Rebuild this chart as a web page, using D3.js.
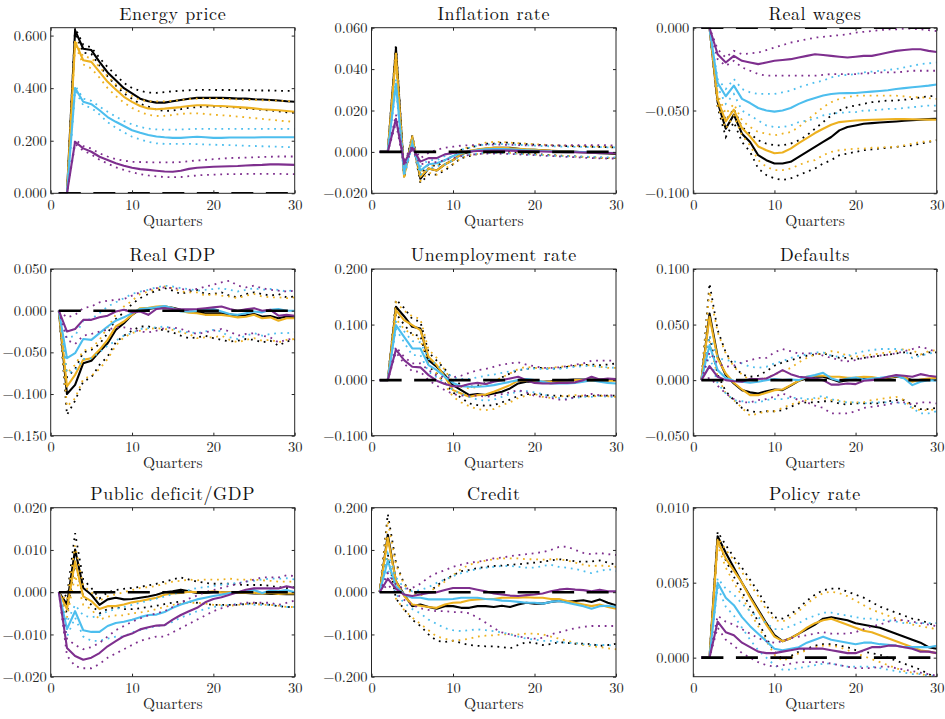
<!DOCTYPE html>
<html>
<head>
<meta charset="utf-8">
<script src="https://cdn.jsdelivr.net/npm/d3@7"></script>
<style>
  body { margin: 0; background: #fff; }
  svg { display: block; }
</style>
</head>
<body>
<div id="chart"></div>
<script>
// quarters on the x axis
const quarters = d3.range(1, 31);
const xTicks = [0, 10, 20, 30];

const titles = ["Energy price", "Inflation rate", "Real wages", "Real GDP", "Unemployment rate",
  "Defaults", "Public deficit/GDP", "Credit", "Policy rate"];

const yDomains = [[0, 0.63], [-0.02, 0.06], [-0.1, 0], [-0.15, 0.05], [-0.1, 0.2],
  [-0.05, 0.1], [-0.02, 0.02], [-0.2, 0.2], [-0.00127, 0.01]];

const yTicks = [[0, 0.2, 0.4, 0.6], [-0.02, 0, 0.02, 0.04, 0.06], [-0.1, -0.05, 0],
  [-0.15, -0.1, -0.05, 0, 0.05], [-0.1, 0, 0.1, 0.2], [-0.05, 0, 0.05, 0.1],
  [-0.02, -0.01, 0, 0.01, 0.02], [-0.2, -0.1, 0, 0.1, 0.2], [0, 0.005, 0.01]];

// series order in every array: black, orange, blue, purple
const colors = ["#000000", "#EDB120", "#4DBEEE", "#7E2F8E"];

// ---- Energy price
const energyMid = [
  [0,0,0.62,0.55,0.545,0.50,0.46,0.43,0.40,0.38,0.36,0.35,0.345,0.345,0.35,0.355,0.36,0.363,0.363,0.363,0.363,0.362,0.36,0.36,0.358,0.357,0.355,0.353,0.35,0.348],
  [0,0,0.576,0.506,0.50,0.462,0.424,0.395,0.367,0.348,0.332,0.323,0.32,0.322,0.325,0.328,0.332,0.335,0.335,0.333,0.332,0.33,0.328,0.326,0.323,0.32,0.318,0.316,0.313,0.31],
  [0,0,0.40,0.348,0.339,0.316,0.29,0.272,0.256,0.24,0.23,0.222,0.216,0.213,0.211,0.211,0.213,0.215,0.213,0.211,0.211,0.212,0.212,0.212,0.212,0.213,0.213,0.213,0.213,0.213],
  [0,0,0.196,0.171,0.158,0.139,0.127,0.114,0.105,0.097,0.092,0.089,0.086,0.083,0.082,0.086,0.093,0.097,0.099,0.101,0.102,0.103,0.104,0.106,0.107,0.108,0.11,0.11,0.109,0.108]
];
const energyHi = [
  [0,0,0.63,0.565,0.555,0.515,0.48,0.45,0.42,0.40,0.39,0.383,0.382,0.385,0.388,0.39,0.392,0.393,0.394,0.393,0.393,0.393,0.392,0.392,0.392,0.391,0.391,0.39,0.39,0.39],
  [0,0,0.585,0.52,0.515,0.48,0.445,0.415,0.39,0.37,0.355,0.35,0.35,0.35,0.352,0.355,0.358,0.36,0.36,0.36,0.36,0.358,0.357,0.356,0.355,0.354,0.353,0.352,0.351,0.35],
  [0,0,0.41,0.36,0.352,0.33,0.31,0.292,0.275,0.262,0.252,0.246,0.243,0.242,0.242,0.243,0.244,0.245,0.245,0.245,0.245,0.245,0.245,0.245,0.245,0.245,0.245,0.245,0.245,0.245],
  [0,0,0.205,0.18,0.17,0.152,0.14,0.13,0.124,0.12,0.119,0.118,0.118,0.118,0.118,0.119,0.122,0.125,0.127,0.13,0.132,0.134,0.135,0.136,0.137,0.138,0.139,0.14,0.14,0.14]
];
const energyLo = [
  [0,0,0.61,0.535,0.53,0.485,0.445,0.41,0.38,0.36,0.34,0.33,0.318,0.313,0.315,0.32,0.325,0.328,0.33,0.33,0.33,0.328,0.326,0.322,0.32,0.318,0.315,0.312,0.308,0.306],
  [0,0,0.565,0.49,0.475,0.44,0.40,0.37,0.345,0.325,0.31,0.298,0.294,0.295,0.298,0.302,0.304,0.304,0.302,0.299,0.297,0.295,0.292,0.289,0.286,0.283,0.28,0.277,0.274,0.272],
  [0,0,0.39,0.335,0.325,0.30,0.27,0.25,0.232,0.215,0.205,0.196,0.19,0.188,0.188,0.188,0.188,0.187,0.186,0.185,0.184,0.183,0.182,0.181,0.18,0.179,0.178,0.177,0.176,0.175],
  [0,0,0.188,0.162,0.148,0.128,0.113,0.099,0.089,0.08,0.073,0.068,0.064,0.062,0.061,0.062,0.065,0.068,0.07,0.071,0.072,0.073,0.073,0.074,0.074,0.074,0.074,0.074,0.073,0.073]
];

// ---- Inflation rate
const inflationMid = [
  [0,0,0.050,-0.011,0.007,-0.013,-0.008,-0.009,-0.006,-0.004,-0.001,0.000,0.001,0.0015,0.002,0.002,0.002,0.0015,0.001,0.001,0.0008,0.0005,0.0003,0.0002,0,-0.0002,-0.0004,-0.0006,-0.0008,-0.001],
  [0,0,0.047,-0.012,0.007,-0.012,-0.008,-0.009,-0.006,-0.004,-0.001,0.0005,0.0012,0.0018,0.002,0.002,0.0018,0.0015,0.0012,0.001,0.0008,0.0006,0.0004,0.0002,0,-0.0002,-0.0003,-0.0004,-0.0005,-0.0006],
  [0,0,0.033,-0.010,0.004,-0.009,-0.006,-0.0055,-0.004,-0.002,-0.0005,0.0003,0.0008,0.0012,0.0014,0.0014,0.0012,0.001,0.0008,0.0006,0.0004,0.0003,0.0002,0.0001,0,-0.0001,-0.0002,-0.0003,-0.0004,-0.0005],
  [0,0,0.016,-0.0055,0.002,-0.0047,-0.003,-0.003,-0.0012,-0.0005,0,0.0002,0.0004,0.0005,0.0006,0.0006,0.0006,0.0005,0.0004,0.0003,0.0002,0.0001,0,-0.0001,-0.0002,-0.0003,-0.0004,-0.0005,-0.0005,-0.0006]
];
const inflationHi = [
  [0,0,0.052,-0.009,0.008,-0.011,-0.006,-0.007,-0.004,-0.002,0.001,0.002,0.003,0.004,0.004,0.0045,0.0045,0.004,0.0038,0.0035,0.0033,0.003,0.003,0.0028,0.0027,0.0026,0.0025,0.0024,0.0023,0.0022],
  [0,0,0.049,-0.01,0.008,-0.010,-0.006,-0.007,-0.004,-0.002,0.001,0.0025,0.0035,0.0045,0.0048,0.0048,0.0045,0.0042,0.004,0.0037,0.0035,0.0033,0.0031,0.003,0.0029,0.0028,0.0027,0.0026,0.0025,0.0025],
  [0,0,0.035,-0.008,0.005,-0.007,-0.004,-0.004,-0.002,-0.0005,0.001,0.002,0.003,0.0035,0.0038,0.0038,0.0036,0.0034,0.0032,0.003,0.0028,0.0027,0.0026,0.0025,0.0024,0.0024,0.0023,0.0023,0.0022,0.0022],
  [0,0,0.018,-0.004,0.003,-0.003,-0.0005,0.001,0.002,0.0025,0.003,0.0032,0.0034,0.0035,0.0035,0.0035,0.0034,0.0033,0.0032,0.0032,0.0032,0.0032,0.0032,0.0032,0.0033,0.0033,0.0033,0.0033,0.0032,0.0032]
];
const inflationLo = [
  [0,0,0.048,-0.013,0.006,-0.015,-0.011,-0.011,-0.009,-0.006,-0.003,-0.002,-0.001,-0.0005,0,0,0,-0.0005,-0.001,-0.001,-0.0013,-0.0016,-0.0018,-0.002,-0.0022,-0.0024,-0.0026,-0.0028,-0.003,-0.003],
  [0,0,0.045,-0.013,0.006,-0.014,-0.010,-0.011,-0.008,-0.006,-0.003,-0.0015,-0.001,-0.0005,-0.0003,-0.0003,-0.0005,-0.0008,-0.001,-0.0012,-0.0014,-0.0016,-0.0018,-0.002,-0.0022,-0.0024,-0.0026,-0.0028,-0.0029,-0.003],
  [0,0,0.031,-0.012,0.003,-0.011,-0.008,-0.007,-0.006,-0.004,-0.002,-0.0012,-0.0008,-0.0005,-0.0005,-0.0006,-0.0008,-0.001,-0.0012,-0.0014,-0.0016,-0.0018,-0.002,-0.0021,-0.0022,-0.0023,-0.0024,-0.0025,-0.0026,-0.0027],
  [0,0,0.014,-0.007,0.001,-0.006,-0.005,-0.005,-0.004,-0.003,-0.002,-0.0015,-0.001,-0.0008,-0.0008,-0.0009,-0.001,-0.0012,-0.0014,-0.0016,-0.0018,-0.002,-0.0022,-0.0024,-0.0026,-0.0028,-0.003,-0.0031,-0.0032,-0.0032]
];

// ---- Real wages
const wagesMid = [
  [0,0,-0.045,-0.061,-0.0525,-0.064,-0.069,-0.077,-0.080,-0.082,-0.082,-0.081,-0.078,-0.075,-0.072,-0.069,-0.066,-0.062,-0.060,-0.059,-0.058,-0.0576,-0.0572,-0.0569,-0.0566,-0.0562,-0.0558,-0.0555,-0.0552,-0.055],
  [0,0,-0.0435,-0.0566,-0.0495,-0.0606,-0.0657,-0.0717,-0.074,-0.0758,-0.0754,-0.073,-0.0697,-0.0667,-0.0636,-0.061,-0.0586,-0.057,-0.0565,-0.056,-0.0558,-0.0556,-0.0555,-0.0553,-0.0552,-0.0552,-0.0553,-0.0554,-0.0555,-0.0556],
  [0,0,-0.0333,-0.0414,-0.035,-0.043,-0.0455,-0.0485,-0.050,-0.0507,-0.050,-0.0485,-0.046,-0.044,-0.0424,-0.041,-0.040,-0.0396,-0.0395,-0.0394,-0.039,-0.0386,-0.0382,-0.0378,-0.037,-0.0365,-0.036,-0.0355,-0.035,-0.0343],
  [0,0,-0.016,-0.021,-0.017,-0.020,-0.021,-0.022,-0.021,-0.020,-0.0195,-0.019,-0.018,-0.017,-0.016,-0.0165,-0.017,-0.0175,-0.018,-0.0175,-0.017,-0.017,-0.016,-0.015,-0.014,-0.0135,-0.013,-0.013,-0.014,-0.0147]
];
const wagesHi = [
  [0,0,-0.043,-0.056,-0.049,-0.060,-0.064,-0.068,-0.070,-0.071,-0.071,-0.070,-0.068,-0.065,-0.061,-0.057,-0.053,-0.050,-0.048,-0.047,-0.046,-0.045,-0.0445,-0.044,-0.044,-0.0435,-0.043,-0.042,-0.0415,-0.041],
  [0,0,-0.040,-0.052,-0.046,-0.056,-0.060,-0.063,-0.064,-0.065,-0.064,-0.063,-0.060,-0.056,-0.052,-0.048,-0.045,-0.043,-0.042,-0.041,-0.041,-0.041,-0.041,-0.041,-0.041,-0.0415,-0.042,-0.042,-0.0425,-0.043],
  [0,0,-0.031,-0.037,-0.031,-0.037,-0.039,-0.040,-0.040,-0.040,-0.039,-0.038,-0.036,-0.0345,-0.033,-0.032,-0.030,-0.029,-0.0285,-0.028,-0.027,-0.0265,-0.026,-0.0255,-0.025,-0.024,-0.023,-0.022,-0.0215,-0.021],
  [0,0,-0.013,-0.018,-0.014,-0.016,-0.0155,-0.015,-0.0135,-0.012,-0.0105,-0.009,-0.008,-0.007,-0.006,-0.0055,-0.005,-0.0045,-0.004,-0.003,-0.0025,-0.002,-0.0015,-0.001,-0.001,-0.0005,-0.0005,-0.001,-0.0015,-0.002]
];
const wagesLo = [
  [0,0,-0.048,-0.066,-0.057,-0.069,-0.075,-0.085,-0.089,-0.091,-0.092,-0.091,-0.089,-0.087,-0.085,-0.082,-0.080,-0.077,-0.076,-0.075,-0.074,-0.0735,-0.073,-0.0725,-0.072,-0.0715,-0.071,-0.070,-0.069,-0.068],
  [0,0,-0.047,-0.061,-0.053,-0.065,-0.071,-0.080,-0.084,-0.086,-0.086,-0.085,-0.083,-0.081,-0.080,-0.077,-0.075,-0.074,-0.0735,-0.073,-0.073,-0.0725,-0.0725,-0.072,-0.072,-0.071,-0.070,-0.069,-0.0685,-0.068],
  [0,0,-0.036,-0.046,-0.040,-0.050,-0.053,-0.056,-0.059,-0.060,-0.060,-0.059,-0.057,-0.056,-0.055,-0.053,-0.052,-0.0515,-0.051,-0.051,-0.050,-0.050,-0.0495,-0.049,-0.049,-0.0485,-0.048,-0.0475,-0.047,-0.047],
  [0,0,-0.019,-0.023,-0.020,-0.024,-0.026,-0.028,-0.029,-0.029,-0.029,-0.029,-0.029,-0.029,-0.029,-0.0285,-0.028,-0.028,-0.028,-0.028,-0.0275,-0.0275,-0.027,-0.027,-0.027,-0.0265,-0.026,-0.026,-0.026,-0.026]
];

// ---- Real GDP
const gdpMid = [
  [0,-0.100,-0.089,-0.063,-0.060,-0.049,-0.039,-0.023,-0.015,-0.005,0.0016,0.002,0.0036,0.005,0.0036,0.001,-0.001,-0.002,-0.003,-0.003,-0.003,-0.0044,-0.006,-0.0055,-0.004,-0.007,-0.0065,-0.009,-0.007,-0.008],
  [0,-0.091,-0.077,-0.059,-0.057,-0.047,-0.035,-0.019,-0.013,-0.005,0.003,0.0036,0.005,0.0056,0.003,-0.0004,-0.0024,-0.003,-0.005,-0.005,-0.005,-0.0064,-0.008,-0.0072,-0.005,-0.009,-0.008,-0.012,-0.009,-0.009],
  [0,-0.057,-0.051,-0.034,-0.035,-0.027,-0.019,-0.012,-0.008,-0.003,0.002,0.003,0.004,0.0056,0.003,-0.001,-0.001,-0.0004,0.001,0.002,-0.001,-0.004,-0.005,-0.003,-0.001,-0.002,0.001,0.002,0,0],
  [0,-0.025,-0.022,-0.011,-0.011,-0.008,-0.006,-0.001,0.001,-0.002,-0.001,-0.005,0.002,0.003,0.002,0.0016,0.0016,0.002,0.003,0.004,0.005,0.002,0,0.0016,0.003,0,0.001,-0.006,-0.005,-0.006]
];
const gdpHi = [
  [0,-0.080,-0.070,-0.050,-0.047,-0.040,-0.027,-0.010,-0.002,0.008,0.015,0.020,0.024,0.027,0.024,0.020,0.023,0.025,0.020,0.020,0.022,0.018,0.016,0.020,0.022,0.020,0.018,0.020,0.016,0.017],
  [0,-0.075,-0.065,-0.048,-0.045,-0.035,-0.020,-0.005,0.005,0.012,0.020,0.023,0.026,0.029,0.027,0.023,0.022,0.022,0.018,0.020,0.018,0.017,0.015,0.018,0.020,0.017,0.016,0.016,0.015,0.016],
  [0,-0.033,-0.030,-0.012,-0.010,-0.003,0.005,0.010,0.015,0.020,0.023,0.025,0.028,0.030,0.029,0.027,0.026,0.024,0.025,0.026,0.027,0.025,0.023,0.025,0.027,0.025,0.026,0.025,0.023,0.025],
  [0,-0.008,-0.005,0.003,0.005,0.010,0.012,0.013,0.014,0.018,0.022,0.025,0.027,0.028,0.027,0.026,0.025,0.026,0.029,0.031,0.034,0.036,0.030,0.028,0.030,0.027,0.025,0.024,0.023,0.024]
];
const gdpLo = [
  [0,-0.125,-0.108,-0.085,-0.080,-0.065,-0.055,-0.038,-0.030,-0.024,-0.019,-0.019,-0.021,-0.024,-0.026,-0.030,-0.033,-0.032,-0.030,-0.033,-0.035,-0.037,-0.036,-0.034,-0.035,-0.038,-0.036,-0.042,-0.037,-0.035],
  [0,-0.115,-0.105,-0.082,-0.078,-0.070,-0.058,-0.042,-0.032,-0.027,-0.024,-0.022,-0.021,-0.022,-0.023,-0.026,-0.028,-0.033,-0.032,-0.032,-0.030,-0.035,-0.038,-0.035,-0.033,-0.036,-0.035,-0.038,-0.035,-0.034],
  [0,-0.075,-0.072,-0.058,-0.057,-0.050,-0.042,-0.036,-0.030,-0.027,-0.022,-0.021,-0.020,-0.019,-0.021,-0.025,-0.026,-0.027,-0.025,-0.023,-0.025,-0.032,-0.034,-0.030,-0.027,-0.030,-0.028,-0.027,-0.027,-0.026],
  [0,-0.035,-0.040,-0.030,-0.028,-0.025,-0.023,-0.020,-0.020,-0.022,-0.025,-0.026,-0.024,-0.021,-0.020,-0.022,-0.025,-0.028,-0.026,-0.024,-0.022,-0.025,-0.030,-0.028,-0.027,-0.030,-0.032,-0.038,-0.035,-0.033]
];

// ---- Unemployment rate
const unempMid = [
  [0,0,0.132,0.115,0.096,0.093,0.036,0.024,0.009,-0.009,-0.018,-0.027,-0.025,-0.027,-0.024,-0.021,-0.015,-0.006,-0.003,-0.003,-0.003,-0.002,0,0,0.001,0.001,0.001,0.001,0.001,0.001],
  [0,0,0.126,0.108,0.099,0.090,0.042,0.027,0.006,-0.018,-0.024,-0.030,-0.027,-0.026,-0.021,-0.015,-0.009,-0.001,-0.001,-0.003,-0.003,-0.003,-0.001,0,0,0,-0.001,-0.001,-0.001,-0.001],
  [0,0,0.099,0.078,0.057,0.057,0.027,0.018,0.006,-0.005,-0.011,-0.012,-0.012,-0.011,-0.009,-0.006,-0.003,0,0.002,0,-0.003,-0.006,-0.006,-0.006,-0.005,-0.003,0,-0.003,-0.005,-0.006],
  [0,0,0.055,0.036,0.024,0.023,0.009,-0.001,-0.007,-0.011,-0.011,-0.007,-0.005,-0.007,-0.003,0,0.003,0.006,0,-0.005,-0.006,-0.006,-0.005,-0.005,-0.004,0,0.006,0.001,0.003,0.002]
];
const unempHi = [
  [0,0,0.145,0.130,0.110,0.105,0.050,0.035,0.020,0.000,-0.008,-0.012,-0.010,-0.005,-0.003,0.005,0.012,0.018,0.020,0.022,0.022,0.020,0.022,0.024,0.026,0.027,0.028,0.027,0.028,0.030],
  [0,0,0.140,0.125,0.115,0.110,0.055,0.040,0.018,-0.005,-0.012,-0.015,-0.012,-0.008,-0.002,0.005,0.012,0.020,0.024,0.022,0.021,0.022,0.024,0.025,0.026,0.028,0.026,0.024,0.022,0.022],
  [0,0,0.105,0.088,0.070,0.068,0.038,0.028,0.015,0.005,0.002,0.002,0.005,0.008,0.010,0.013,0.016,0.018,0.020,0.021,0.020,0.020,0.020,0.022,0.024,0.025,0.026,0.024,0.023,0.022],
  [0,0,0.060,0.042,0.030,0.030,0.018,0.008,0.005,0.005,0.008,0.013,0.018,0.020,0.024,0.028,0.030,0.032,0.028,0.025,0.022,0.022,0.023,0.025,0.028,0.030,0.035,0.035,0.035,0.035]
];
const unempLo = [
  [0,0,0.120,0.100,0.082,0.080,0.025,0.012,-0.005,-0.022,-0.032,-0.042,-0.045,-0.046,-0.045,-0.040,-0.035,-0.028,-0.025,-0.025,-0.026,-0.028,-0.028,-0.029,-0.030,-0.029,-0.028,-0.028,-0.028,-0.028],
  [0,0,0.110,0.092,0.082,0.072,0.030,0.012,-0.008,-0.030,-0.040,-0.047,-0.052,-0.054,-0.052,-0.045,-0.040,-0.032,-0.028,-0.025,-0.030,-0.032,-0.030,-0.028,-0.027,-0.028,-0.030,-0.028,-0.029,-0.030],
  [0,0,0.092,0.068,0.045,0.045,0.015,0.005,-0.005,-0.018,-0.025,-0.030,-0.035,-0.037,-0.035,-0.030,-0.025,-0.020,-0.020,-0.022,-0.025,-0.030,-0.032,-0.034,-0.032,-0.030,-0.030,-0.028,-0.030,-0.030],
  [0,0,0.050,0.030,0.016,0.015,0.000,-0.010,-0.018,-0.025,-0.028,-0.028,-0.028,-0.030,-0.028,-0.025,-0.022,-0.018,-0.022,-0.028,-0.030,-0.032,-0.035,-0.035,-0.030,-0.028,-0.025,-0.027,-0.028,-0.027]
];

// ---- Defaults
const defaultsMid = [
  [0,0.060,0.021,0.0045,-0.003,-0.009,-0.011,-0.012,-0.010,-0.0084,-0.009,-0.005,-0.0006,0.0015,0.003,0.003,0.001,-0.0015,0,0.001,0.001,0.0006,0.0015,0.002,0.003,0.0024,0,0,0.0006,0.0006],
  [0,0.057,0.0195,0.006,-0.0024,-0.0084,-0.0135,-0.0135,-0.0114,-0.009,-0.0084,-0.0045,-0.0006,0.003,0.004,0.004,0.003,0.003,0.002,0.0024,0.003,0.0027,0.0015,0.0024,0.0036,0.003,-0.0015,0.0006,0.0015,0.002],
  [0,0.0315,0.009,0.002,-0.0006,-0.0015,-0.0024,-0.0015,0,0.001,0,0.0006,0,0.003,0.0045,0.0066,0.0015,-0.0006,0.0015,0.0024,0.0006,0.0015,0.002,0.003,0.0039,0.0015,-0.0045,-0.0015,0,-0.0006],
  [0,0.0126,0.003,0,-0.001,-0.0015,0.001,0.001,0.0015,0.005,0.009,0.0054,0.003,0.0024,0.0015,0,-0.004,-0.004,-0.003,-0.0036,-0.0006,0,0.001,0.003,0.0045,0.0039,0.003,0.0054,0.0039,0.003]
];
const defaultsHi = [
  [0,0.087,0.045,0.025,0.013,0.005,0.003,0.004,0.008,0.013,0.016,0.018,0.020,0.022,0.023,0.024,0.022,0.020,0.020,0.019,0.020,0.021,0.022,0.023,0.024,0.025,0.024,0.022,0.025,0.025],
  [0,0.080,0.043,0.024,0.012,0.005,0.000,0.000,0.002,0.005,0.008,0.011,0.016,0.020,0.023,0.024,0.026,0.025,0.022,0.021,0.022,0.023,0.024,0.025,0.026,0.028,0.027,0.023,0.026,0.027],
  [0,0.040,0.020,0.018,0.017,0.015,0.012,0.011,0.012,0.015,0.017,0.020,0.022,0.023,0.025,0.025,0.022,0.021,0.022,0.024,0.026,0.027,0.028,0.028,0.028,0.027,0.020,0.022,0.024,0.025],
  [0,0.025,0.015,0.012,0.013,0.016,0.018,0.020,0.020,0.025,0.028,0.026,0.024,0.024,0.024,0.022,0.020,0.018,0.017,0.018,0.020,0.021,0.022,0.023,0.024,0.026,0.028,0.030,0.028,0.025]
];
const defaultsLo = [
  [0,0.040,0.005,-0.010,-0.018,-0.025,-0.028,-0.029,-0.028,-0.028,-0.027,-0.024,-0.021,-0.020,-0.020,-0.019,-0.019,-0.021,-0.022,-0.021,-0.021,-0.021,-0.021,-0.019,-0.018,-0.018,-0.022,-0.026,-0.026,-0.025],
  [0,0.035,0.003,-0.012,-0.018,-0.025,-0.032,-0.030,-0.028,-0.028,-0.025,-0.022,-0.020,-0.018,-0.017,-0.016,-0.018,-0.018,-0.020,-0.020,-0.020,-0.018,-0.017,-0.016,-0.015,-0.018,-0.025,-0.027,-0.027,-0.026],
  [0,0.022,-0.003,-0.012,-0.018,-0.019,-0.020,-0.020,-0.018,-0.017,-0.017,-0.016,-0.016,-0.017,-0.016,-0.014,-0.017,-0.019,-0.020,-0.020,-0.021,-0.020,-0.020,-0.020,-0.020,-0.021,-0.025,-0.030,-0.030,-0.028],
  [0,0.002,-0.005,-0.012,-0.017,-0.020,-0.020,-0.018,-0.017,-0.015,-0.012,-0.015,-0.018,-0.020,-0.023,-0.025,-0.030,-0.030,-0.030,-0.028,-0.025,-0.024,-0.023,-0.022,-0.020,-0.020,-0.022,-0.020,-0.020,-0.021]
];

// ---- Public deficit/GDP
const deficitMid = [
  [0,-0.0029,0.0101,0.001,-0.0006,-0.003,-0.0017,-0.0013,-0.0017,-0.0016,-0.0013,-0.001,-0.0006,0,0.0002,0.0006,0.0002,-0.0002,-0.0002,0,0,-0.0001,-0.0002,-0.0002,-0.0003,-0.0003,-0.0004,-0.0004,-0.0005,-0.0005],
  [0,-0.004,0.0073,-0.001,-0.0021,-0.004,-0.0033,-0.0033,-0.0029,-0.0024,-0.0021,-0.0017,-0.0013,-0.0006,-0.0003,-0.0002,0.0001,0,0,0.0002,0,0,-0.0001,-0.0002,-0.0001,-0.0003,-0.0002,-0.0004,-0.0003,-0.0003],
  [0,-0.0087,-0.0045,-0.009,-0.0094,-0.0094,-0.008,-0.0073,-0.007,-0.0065,-0.0059,-0.0054,-0.0053,-0.0047,-0.0037,-0.0029,-0.0023,-0.0017,-0.0013,-0.0009,-0.0006,-0.0002,0,0.0002,0.0005,-0.0002,0.0004,0.0002,0.0005,0],
  [0,-0.0132,-0.0151,-0.016,-0.0155,-0.0144,-0.0128,-0.0116,-0.0104,-0.0098,-0.0088,-0.0083,-0.0079,-0.0078,-0.0065,-0.0054,-0.0045,-0.0037,-0.0024,-0.0016,-0.0012,-0.0006,0,0.0006,0.0009,0.0009,0.0009,0.0009,0.0014,0.001]
];
const deficitHi = [
  [0,-0.001,0.014,0.003,0.001,-0.0015,0,0.0005,0.0008,0.001,0.0013,0.0016,0.002,0.0025,0.003,0.0035,0.003,0.0025,0.0022,0.002,0.002,0.002,0.0018,0.0017,0.0017,0.0017,0.0015,0.0012,0.001,0.0012],
  [0,-0.002,0.011,0.0015,0,-0.002,-0.001,-0.0005,0,0.0005,0.001,0.0012,0.0015,0.002,0.0025,0.0027,0.003,0.0028,0.003,0.003,0.003,0.0032,0.003,0.003,0.003,0.0028,0.0027,0.0025,0.0025,0.0025],
  [0,-0.007,-0.003,-0.0055,-0.006,-0.0055,-0.0045,-0.004,-0.0035,-0.003,-0.0025,-0.002,-0.0015,-0.001,-0.0005,0,0.0005,0.001,0.0012,0.0015,0.0018,0.002,0.0022,0.0025,0.0027,0.003,0.0032,0.0032,0.0033,0.003],
  [0,-0.011,-0.0125,-0.0135,-0.013,-0.012,-0.0105,-0.009,-0.008,-0.007,-0.0062,-0.0055,-0.005,-0.0045,-0.0035,-0.0025,-0.0015,-0.0008,0,0.0005,0.001,0.0015,0.002,0.0025,0.003,0.0035,0.0035,0.0035,0.004,0.0038]
];
const deficitLo = [
  [0,-0.005,0.007,-0.001,-0.003,-0.005,-0.004,-0.0035,-0.004,-0.004,-0.0038,-0.0035,-0.0032,-0.0028,-0.0025,-0.0022,-0.0022,-0.0025,-0.0028,-0.003,-0.003,-0.003,-0.003,-0.0028,-0.0025,-0.0027,-0.003,-0.0033,-0.0035,-0.0035],
  [0,-0.006,0.004,-0.003,-0.004,-0.0065,-0.0058,-0.0055,-0.0055,-0.005,-0.0048,-0.0045,-0.004,-0.0035,-0.003,-0.0027,-0.0025,-0.0025,-0.0027,-0.003,-0.003,-0.0032,-0.003,-0.0028,-0.0027,-0.003,-0.003,-0.0032,-0.0035,-0.0035],
  [0,-0.0105,-0.006,-0.0105,-0.0115,-0.0115,-0.011,-0.0105,-0.0105,-0.0095,-0.009,-0.0085,-0.008,-0.0078,-0.007,-0.006,-0.0053,-0.0045,-0.004,-0.0035,-0.0032,-0.003,-0.0028,-0.0028,-0.003,-0.003,-0.003,-0.0032,-0.0035,-0.0035],
  [0,-0.015,-0.0175,-0.018,-0.018,-0.017,-0.0155,-0.0145,-0.0135,-0.0125,-0.0115,-0.011,-0.0105,-0.0105,-0.0095,-0.0085,-0.0075,-0.0065,-0.0055,-0.0045,-0.0038,-0.0032,-0.0028,-0.0025,-0.0025,-0.0025,-0.0025,-0.003,-0.0025,-0.002]
];

// ---- Credit
const creditMid = [
  [0,0.136,0.026,-0.0055,-0.033,-0.029,-0.035,-0.039,-0.033,-0.033,-0.037,-0.037,-0.033,-0.033,-0.035,-0.032,-0.035,-0.029,-0.025,-0.027,-0.027,-0.023,-0.021,-0.023,-0.021,-0.019,-0.023,-0.017,-0.025,-0.031],
  [0,0.129,0.026,-0.009,-0.029,-0.032,-0.035,-0.037,-0.029,-0.025,-0.024,-0.019,-0.017,-0.016,-0.016,-0.013,-0.013,-0.013,-0.012,-0.013,-0.013,-0.016,-0.016,-0.021,-0.025,-0.029,-0.033,-0.029,-0.035,-0.039],
  [0,0.075,0.014,-0.0055,-0.013,-0.013,-0.017,-0.017,-0.017,-0.016,-0.013,-0.013,-0.013,-0.016,-0.017,-0.02,-0.021,-0.023,-0.025,-0.025,-0.027,-0.023,-0.021,-0.025,-0.029,-0.033,-0.039,-0.033,-0.032,-0.035],
  [0,0.032,0.008,-0.0055,-0.009,-0.0055,-0.0016,0,0.005,0.01,0.01,0.01,0.006,0.002,-0.003,-0.0055,-0.008,-0.009,-0.007,-0.0055,-0.003,0.002,0.006,0.008,0.006,0.005,0.002,0.006,0.002,0.002]
];
const creditHi = [
  [0,0.185,0.07,0.02,0.0,-0.003,0.0,0.015,0.03,0.04,0.05,0.053,0.057,0.06,0.062,0.063,0.065,0.066,0.068,0.07,0.072,0.075,0.078,0.076,0.073,0.072,0.073,0.075,0.07,0.065],
  [0,0.168,0.065,0.018,-0.005,-0.008,0.0,0.012,0.025,0.04,0.055,0.065,0.07,0.075,0.078,0.08,0.08,0.08,0.078,0.078,0.077,0.078,0.078,0.075,0.07,0.065,0.062,0.063,0.062,0.06],
  [0,0.092,0.035,0.01,0.002,0.005,0.012,0.022,0.03,0.038,0.045,0.05,0.055,0.058,0.06,0.062,0.062,0.06,0.058,0.058,0.062,0.065,0.06,0.058,0.055,0.05,0.045,0.05,0.055,0.05],
  [0,0.045,0.018,0.008,0.01,0.02,0.035,0.045,0.052,0.06,0.065,0.07,0.072,0.075,0.08,0.082,0.085,0.088,0.09,0.092,0.095,0.1,0.107,0.108,0.1,0.093,0.09,0.093,0.09,0.088]
];
const creditLo = [
  [0,0.09,-0.015,-0.04,-0.065,-0.08,-0.1,-0.115,-0.118,-0.115,-0.12,-0.125,-0.127,-0.128,-0.128,-0.13,-0.133,-0.125,-0.118,-0.12,-0.125,-0.123,-0.118,-0.12,-0.122,-0.122,-0.123,-0.127,-0.125,-0.122],
  [0,0.085,-0.015,-0.042,-0.06,-0.075,-0.09,-0.105,-0.11,-0.115,-0.113,-0.11,-0.105,-0.103,-0.102,-0.1,-0.1,-0.1,-0.098,-0.098,-0.1,-0.105,-0.11,-0.115,-0.12,-0.125,-0.128,-0.13,-0.133,-0.135],
  [0,0.055,-0.005,-0.025,-0.04,-0.05,-0.065,-0.075,-0.085,-0.09,-0.092,-0.09,-0.088,-0.09,-0.092,-0.095,-0.1,-0.105,-0.11,-0.112,-0.115,-0.115,-0.118,-0.12,-0.12,-0.123,-0.125,-0.125,-0.125,-0.127],
  [0,0.018,-0.003,-0.018,-0.03,-0.038,-0.042,-0.045,-0.045,-0.047,-0.047,-0.05,-0.06,-0.072,-0.085,-0.095,-0.1,-0.105,-0.108,-0.11,-0.108,-0.1,-0.095,-0.09,-0.085,-0.082,-0.08,-0.08,-0.08,-0.08]
];

// ---- Policy rate
const policyMid = [
  [0,0,0.0081,0.007,0.006,0.005,0.0041,0.0032,0.0023,0.0015,0.0011,0.0013,0.0016,0.0019,0.0022,0.0026,0.0027,0.0026,0.0025,0.0023,0.0022,0.0021,0.002,0.0018,0.0016,0.0014,0.0012,0.001,0.0007,0.0006],
  [0,0,0.0078,0.0066,0.0058,0.005,0.004,0.0031,0.0022,0.0014,0.0011,0.0013,0.0016,0.002,0.0023,0.0025,0.0026,0.0024,0.0022,0.002,0.0018,0.0017,0.0015,0.0013,0.0011,0.0009,0.0007,0.0005,0.0004,0.0003],
  [0,0,0.005,0.004,0.0035,0.0027,0.0021,0.0016,0.0011,0.0006,0.0005,0.0006,0.0007,0.001,0.0012,0.0014,0.0012,0.0011,0.001,0.0009,0.001,0.001,0.0009,0.00085,0.0008,0.0007,0.0007,0.0007,0.0007,0.0008],
  [0,0,0.0024,0.0017,0.0015,0.001,0.0007,0.0004,0.0003,0.0003,0.0004,0.0005,0.0006,0.0006,0.0006,0.0006,0.0005,0.0004,0.0003,0.0003,0.0005,0.0007,0.0007,0.0008,0.0008,0.0007,0.0006,0.0004,0.0004,0.0003]
];
const policyHi = [
  [0,0,0.0084,0.0075,0.0067,0.006,0.0052,0.0044,0.0035,0.0027,0.0026,0.0029,0.0033,0.0038,0.0042,0.0045,0.0046,0.0046,0.0044,0.0042,0.004,0.0037,0.0034,0.0032,0.003,0.0028,0.0026,0.0025,0.0023,0.0021],
  [0,0,0.0080,0.0072,0.0065,0.0057,0.0049,0.0041,0.0032,0.0025,0.0024,0.0027,0.0031,0.0036,0.004,0.0043,0.0044,0.0043,0.0041,0.0038,0.0035,0.0032,0.003,0.0028,0.0026,0.0024,0.0022,0.0021,0.002,0.0019],
  [0,0,0.0053,0.0046,0.0042,0.0036,0.0031,0.0027,0.0023,0.0019,0.0019,0.0021,0.0023,0.0026,0.0028,0.003,0.003,0.0029,0.0028,0.0027,0.0026,0.0026,0.0025,0.0025,0.0024,0.0023,0.0023,0.0023,0.0023,0.0023],
  [0,0,0.0028,0.0024,0.0022,0.0019,0.0016,0.0013,0.0011,0.001,0.0011,0.0013,0.0014,0.0015,0.0016,0.0017,0.0016,0.0016,0.0016,0.0017,0.0019,0.0021,0.0022,0.0024,0.0025,0.0025,0.0024,0.0023,0.0022,0.0021]
];
const policyLo = [
  [0,0,0.0078,0.0065,0.0054,0.0044,0.0034,0.0024,0.0013,0.0004,-0.0001,0.0001,0.0004,0.0006,0.0008,0.0009,0.0009,0.0008,0.0007,0.0005,0.0004,0.0003,0.0002,0,-0.0002,-0.0004,-0.0006,-0.0008,-0.0011,-0.0013],
  [0,0,0.0075,0.006,0.005,0.0041,0.003,0.0021,0.0011,0.0002,-0.0002,0,0.0003,0.0005,0.0007,0.0008,0.0008,0.0007,0.0005,0.0003,0.0001,-0.0001,-0.0003,-0.0005,-0.0007,-0.0009,-0.001,-0.0011,-0.0012,-0.0013],
  [0,0,0.0047,0.0034,0.0028,0.002,0.0012,0.0005,0,-0.0005,-0.0008,-0.0008,-0.0007,-0.0006,-0.0005,-0.0004,-0.0004,-0.0005,-0.0006,-0.0006,-0.0006,-0.0006,-0.0007,-0.0008,-0.0009,-0.001,-0.0011,-0.0011,-0.0012,-0.0012],
  [0,0,0.002,0.0012,0.0008,0.0003,0,-0.0003,-0.0005,-0.0006,-0.0005,-0.0004,-0.0003,-0.0003,-0.0003,-0.0003,-0.0004,-0.0005,-0.0006,-0.0007,-0.0007,-0.0007,-0.0006,-0.0006,-0.0007,-0.0008,-0.0009,-0.001,-0.0011,-0.0012]
];

const midSets = [energyMid, inflationMid, wagesMid, gdpMid, unempMid, defaultsMid, deficitMid, creditMid, policyMid];
const hiSets = [energyHi, inflationHi, wagesHi, gdpHi, unempHi, defaultsHi, deficitHi, creditHi, policyHi];
const loSets = [energyLo, inflationLo, wagesLo, gdpLo, unempLo, defaultsLo, deficitLo, creditLo, policyLo];

// layout of the 3x3 grid (plot-area edges in px)
const width = 945;
const height = 719;
const colLeft = [50.7, 371.5, 693.3];
const colRight = [294.7, 616, 936.7];
const rowTop = [27.7, 269, 507.7];
const rowBottom = [193.3, 435.7, 676.7];
const font = "'Latin Modern Roman', 'CMU Serif', 'Liberation Serif', 'Times New Roman', serif";
const ink = "#262626";

const svg = d3.select("#chart")
  .append("svg")
  .attr("width", width)
  .attr("height", height)
  .style("font-family", font);

const fmt = d3.format(".3f");

titles.forEach((title, i) => {
  const col = i % 3;
  const row = Math.floor(i / 3);
  const x = d3.scaleLinear().domain([0, 30]).range([colLeft[col], colRight[col]]);
  const y = d3.scaleLinear().domain(yDomains[i]).range([rowBottom[row], rowTop[row]]);

  const g = svg.append("g");

  g.append("clipPath")
    .attr("id", "clip" + i)
    .append("rect")
    .attr("x", x.range()[0])
    .attr("y", y.range()[1])
    .attr("width", x.range()[1] - x.range()[0])
    .attr("height", y.range()[0] - y.range()[1]);

  const line = d3.line()
    .x((d, j) => x(quarters[j]))
    .y(d => y(d));

  const plot = g.append("g").attr("clip-path", `url(#clip${i})`);

  colors.forEach((c, k) => {
    plot.append("path")
      .attr("d", line(midSets[i][k]))
      .attr("fill", "none")
      .attr("stroke", c)
      .attr("stroke-width", 2.1)
      .attr("stroke-linejoin", "round");
    [hiSets[i][k], loSets[i][k]].forEach(band => {
      plot.append("path")
        .attr("d", line(band))
        .attr("fill", "none")
        .attr("stroke", c)
        .attr("stroke-width", 1.8)
        .attr("stroke-dasharray", "1.8 4.8");
    });
  });

  // zero reference line
  plot.append("path")
    .attr("d", line(quarters.map(() => 0)))
    .attr("fill", "none")
    .attr("stroke", "#000")
    .attr("stroke-width", 2.6)
    .attr("stroke-dasharray", "22 12.5");

  // axes: ticks pointing inward on all four sides
  const styleAxis = sel => {
    sel.select(".domain").remove();
    sel.selectAll("line").attr("stroke", ink);
    sel.selectAll("text").attr("fill", ink).style("font-size", "14.5px");
    sel.attr("font-family", null).attr("font-size", null);
  };

  g.append("g")
    .attr("transform", `translate(${x.range()[0]},0)`)
    .call(d3.axisLeft(y).tickValues(yTicks[i]).tickFormat(fmt).tickSize(-3).tickPadding(4))
    .call(styleAxis);
  g.append("g")
    .attr("transform", `translate(${x.range()[1]},0)`)
    .call(d3.axisRight(y).tickValues(yTicks[i]).tickFormat("").tickSize(-3))
    .call(styleAxis);
  g.append("g")
    .attr("transform", `translate(0,${y.range()[0]})`)
    .call(d3.axisBottom(x).tickValues(xTicks).tickSize(-3).tickPadding(6))
    .call(styleAxis);
  g.append("g")
    .attr("transform", `translate(0,${y.range()[1]})`)
    .call(d3.axisTop(x).tickValues(xTicks).tickFormat("").tickSize(-3))
    .call(styleAxis);

  g.append("rect")
    .attr("x", x.range()[0])
    .attr("y", y.range()[1])
    .attr("width", x.range()[1] - x.range()[0])
    .attr("height", y.range()[0] - y.range()[1])
    .attr("fill", "none")
    .attr("stroke", ink)
    .attr("stroke-width", 1);

  const cx = (x.range()[0] + x.range()[1]) / 2;
  g.append("text")
    .attr("x", cx)
    .attr("y", y.range()[1] - 7.7)
    .attr("text-anchor", "middle")
    .attr("fill", "#111")
    .style("font-size", "18px")
    .style("letter-spacing", "0.6px")
    .text(title);

  g.append("text")
    .attr("x", cx)
    .attr("y", y.range()[0] + 32.5)
    .attr("text-anchor", "middle")
    .attr("fill", ink)
    .style("font-size", "15.5px")
    .text("Quarters");
});
</script>
</body>
</html>
